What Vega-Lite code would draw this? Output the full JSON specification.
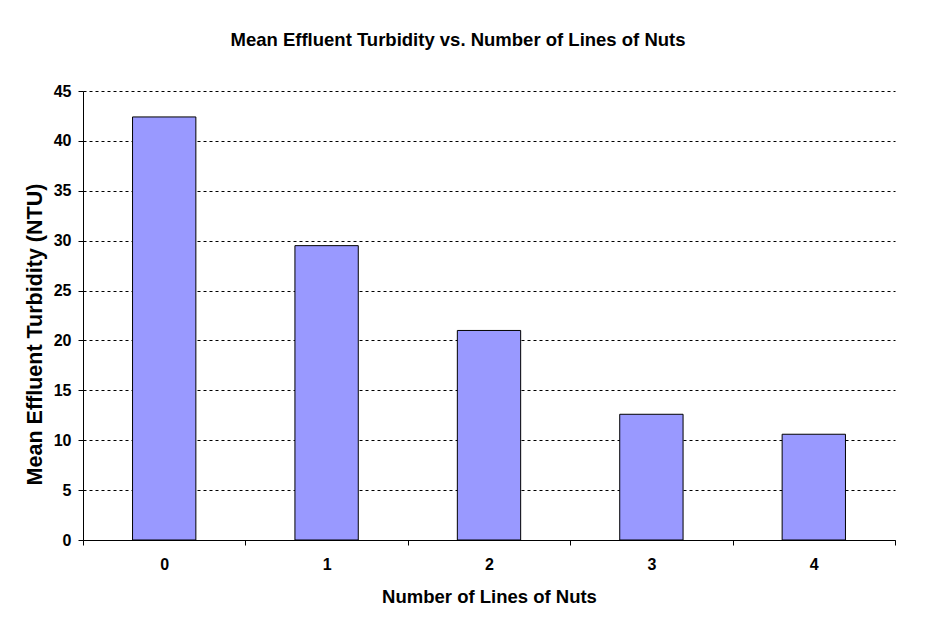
{
  "$schema": "https://vega.github.io/schema/vega-lite/v6.json",
  "width": 812,
  "height": 449,
  "autosize": {"type": "none"},
  "padding": {"left": 83, "top": 91, "right": 39, "bottom": 101},
  "background": "white",
  "title": {
    "text": "Mean Effluent Turbidity vs. Number of Lines of Nuts",
    "font": "Liberation Sans",
    "fontSize": 18.5,
    "fontWeight": "bold",
    "color": "black",
    "anchor": "middle",
    "offset": 34,
    "dx": -31
  },
  "data": {
    "values": [
      {"lines": "0", "turbidity": 42.4},
      {"lines": "1", "turbidity": 29.5},
      {"lines": "2", "turbidity": 21.0},
      {"lines": "3", "turbidity": 12.6},
      {"lines": "4", "turbidity": 10.6}
    ]
  },
  "config": {
    "view": {"stroke": null},
    "axis": {
      "labelFont": "Liberation Sans",
      "labelFontWeight": "bold",
      "labelFontSize": 16,
      "labelColor": "black",
      "titleFont": "Liberation Sans",
      "titleFontWeight": "bold",
      "titleColor": "black",
      "domainColor": "black",
      "tickColor": "black",
      "domainWidth": 1,
      "tickWidth": 1
    }
  },
  "mark": {"type": "bar", "color": "#9999ff", "stroke": "black", "strokeWidth": 1, "width": {"band": 0.39}},
  "encoding": {
    "x": {
      "field": "lines",
      "type": "nominal",
      "sort": null,
      "scale": {"paddingInner": 0, "paddingOuter": 0},
      "axis": {
        "title": "Number of Lines of Nuts",
        "titleFontSize": 18.5,
        "labelAngle": 0,
        "tickBand": "extent",
        "tickSize": 5,
        "labelPadding": 11,
        "titlePadding": 15
      }
    },
    "y": {
      "field": "turbidity",
      "type": "quantitative",
      "scale": {"domain": [0, 45], "nice": false},
      "axis": {
        "title": "Mean Effluent Turbidity (NTU)",
        "titleFontSize": 21.5,
        "titleY": 243,
        "values": [0, 5, 10, 15, 20, 25, 30, 35, 40, 45],
        "grid": true,
        "gridColor": "black",
        "gridDash": [3, 3],
        "gridWidth": 1,
        "tickSize": 5,
        "labelPadding": 7,
        "titlePadding": 7
      }
    }
  }
}
